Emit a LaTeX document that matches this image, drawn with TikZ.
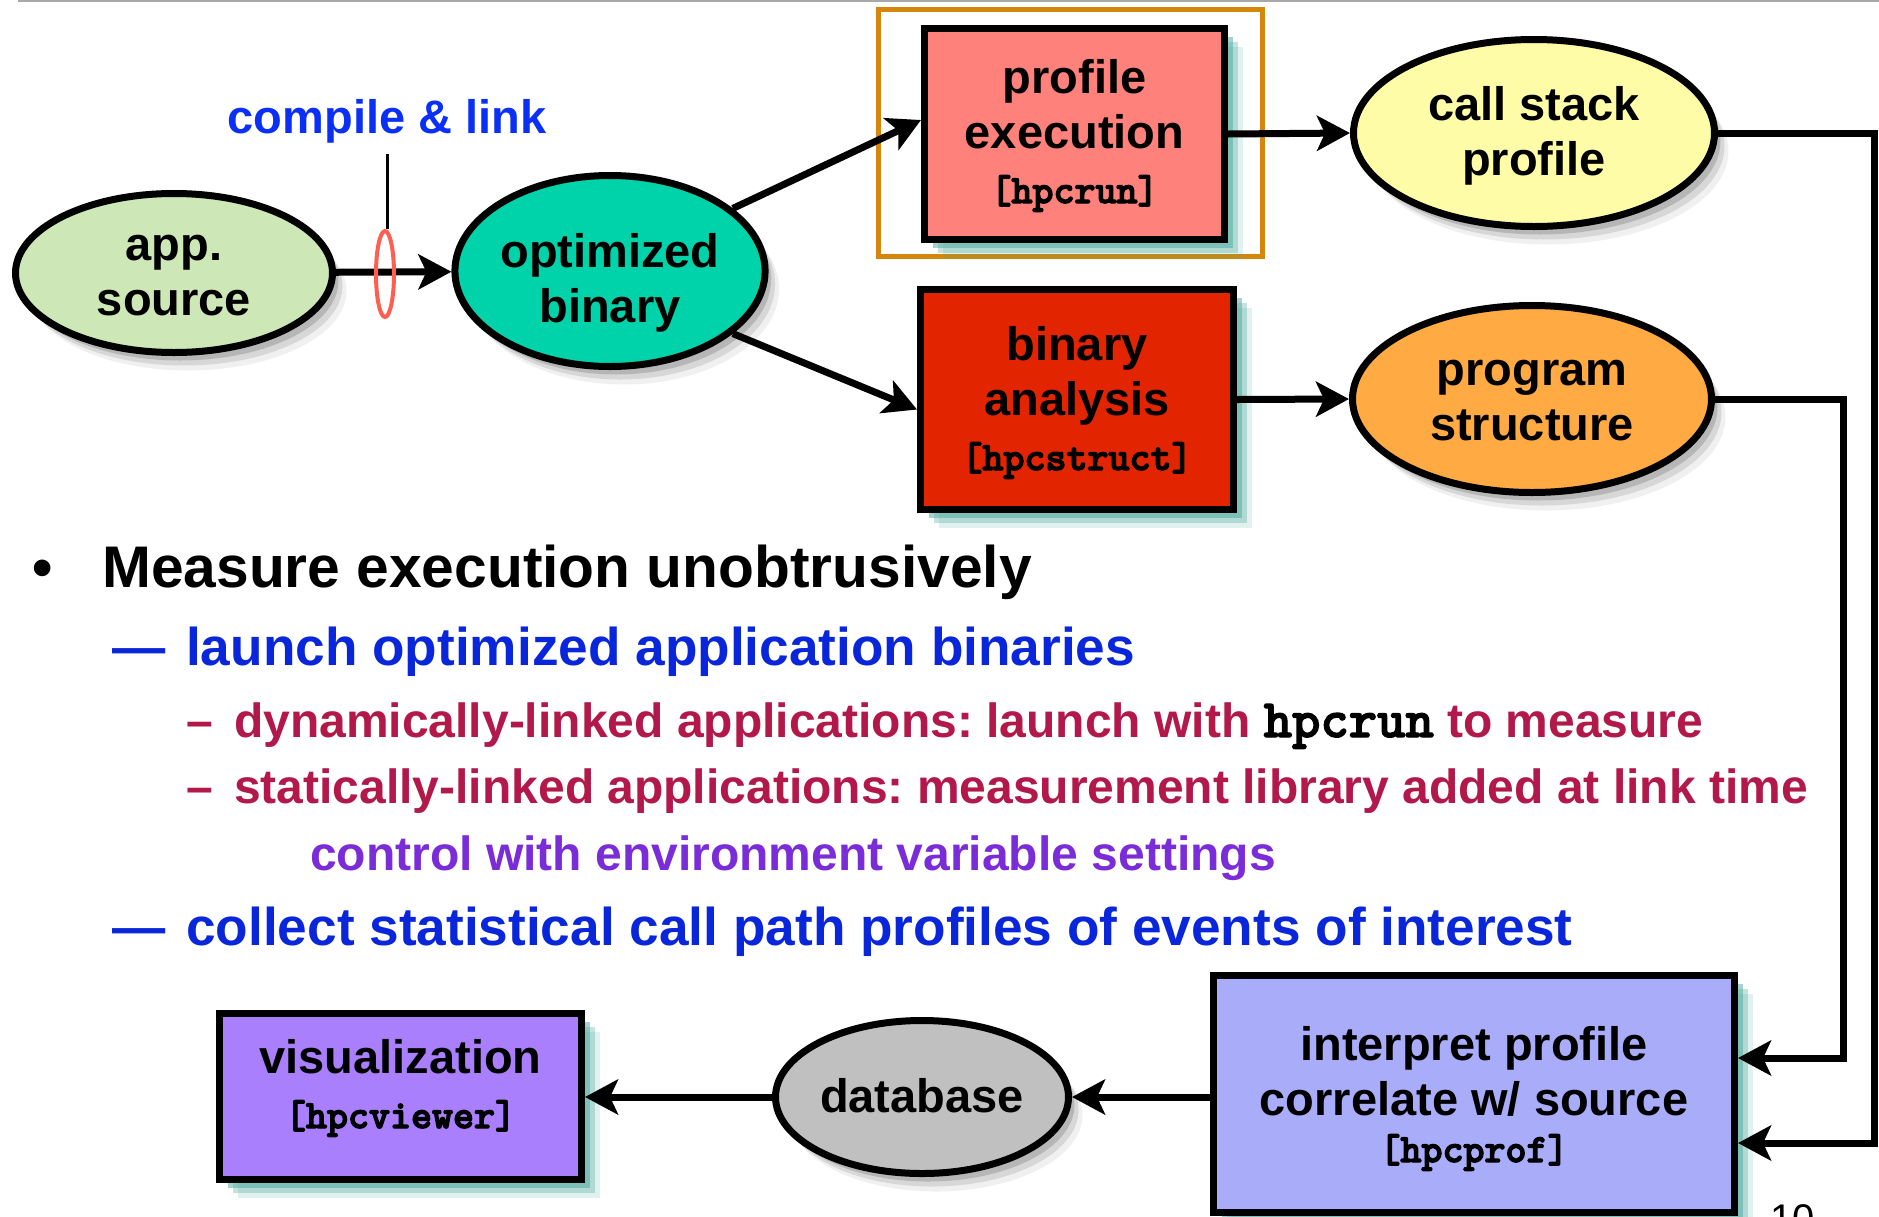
\documentclass[tikz,border=0pt]{standalone}
\usepackage{fontspec}
\setmainfont{Liberation Sans}
\usetikzlibrary{shapes.geometric,arrows.meta,shadows,calc}
\definecolor{cApp}{HTML}{CDE8B6}
\definecolor{cOpt}{HTML}{00D2AA}
\definecolor{cProf}{HTML}{FF817B}
\definecolor{cCall}{HTML}{FFFCA8}
\definecolor{cBin}{HTML}{E32400}
\definecolor{cProg}{HTML}{FFAA42}
\definecolor{cVis}{HTML}{A97FFE}
\definecolor{cDb}{HTML}{C0C0C0}
\definecolor{cInt}{HTML}{A9ADF9}
\definecolor{cHl}{HTML}{D4870A}
\definecolor{cRing}{HTML}{FF5F50}
\definecolor{cBlue}{HTML}{0A26DA}
\definecolor{cBlueL}{HTML}{0A30F5}
\definecolor{cRed}{HTML}{B2184A}
\definecolor{cPurp}{HTML}{7B2CD9}
\definecolor{cTeal}{HTML}{4AA89E}
\definecolor{cGrayLine}{HTML}{A8A8A8}
\newcommand\heavy[1]{\special{pdf:literal direct 2 Tr 1.3 w}#1\special{pdf:literal direct 0 Tr}}
\newcommand\mtxt[1]{{\ttfamily\fontsize{40}{55}\selectfont\heavy{#1}}}
\tikzset{
  lbl/.style={font=\bfseries\fontsize{47}{55}\selectfont, align=center, text=black, text depth=0pt},
  tealsh/.style={drop shadow={fill=cTeal, opacity=0.50, shadow xshift=8pt, shadow yshift=-8pt},
                 drop shadow={fill=cTeal, opacity=0.32, shadow xshift=13pt, shadow yshift=-13pt},
                 drop shadow={fill=cTeal, opacity=0.16, shadow xshift=18pt, shadow yshift=-18pt}},
  graysh/.style={drop shadow={fill=black, opacity=0.15, shadow xshift=6pt, shadow yshift=-8pt},
                 drop shadow={fill=black, opacity=0.10, shadow xshift=10pt, shadow yshift=-13pt},
                 drop shadow={fill=black, opacity=0.06, shadow xshift=14pt, shadow yshift=-18pt}},
  boxn/.style={rectangle, draw=black, line width=7pt, inner sep=0pt, lbl, tealsh},
  elln/.style={ellipse, draw=black, line width=7pt, inner sep=0pt, lbl, graysh},
  conn/.style={line width=7pt, draw=black},
  arr/.style={conn, -{Stealth[length=33pt,width=35pt,inset=8pt]}},
  txt/.style={anchor=base west, inner sep=0pt, font=\frenchspacing\bfseries\fontsize{#1}{#1}\selectfont},
}
\begin{document}
\begin{tikzpicture}[x=1pt,y=-1pt]
\useasboundingbox (0,0) rectangle (1879,1216);
\clip (0,0) rectangle (1879,1216);
\fill[white] (0,0) rectangle (1879,1216);
\draw[cGrayLine, line width=2pt] (18,1) -- (1879,1);

% highlight frame
\node[draw=cHl, line width=5pt, minimum width=384pt, minimum height=247pt, inner sep=0pt] (hl) at (1070.5,133) {};

% nodes
\node[elln, fill=cApp, minimum width=317pt, minimum height=159pt, text height=84pt] (app) at (174,273) {app.\\source};
\node[elln, fill=cOpt, minimum width=305pt, minimum height=191pt, text height=102pt] (opt) at (610,271) {optimized\\binary};
\node[boxn, fill=cProf, minimum width=300pt, minimum height=211pt, text height=138pt] (prof) at (1074.5,134) {profile\\execution\\\mtxt{[hpcrun]}};
\node[elln, fill=cCall, minimum width=361pt, minimum height=187pt, text height=84pt] (cs) at (1534,133) {call stack\\profile};
\node[boxn, fill=cBin, minimum width=313pt, minimum height=220pt, text height=141pt] (bin) at (1077,399.5) {binary\\analysis\\\mtxt{[hpcstruct]}};
\node[elln, fill=cProg, minimum width=359pt, minimum height=187pt, text height=82pt] (ps) at (1532,399) {program\\structure};
\node[boxn, fill=cInt, minimum width=521pt, minimum height=237pt, text height=136pt] (interp) at (1474,1094) {interpret profile\\correlate w/ source\\[-8pt]\mtxt{[hpcprof]}};
\node[elln, fill=cDb, minimum width=293pt, minimum height=153pt, text height=30pt] (db) at (922,1097) {database};
\node[boxn, fill=cVis, minimum width=362pt, minimum height=166pt, text height=63pt] (vis) at (400.5,1096.5) {visualization\\\mtxt{[hpcviewer]}};

% connectors
\draw[arr] (app) -- (opt);
\node[ellipse, draw=cRing, line width=4pt, minimum width=18pt, minimum height=86pt, inner sep=0pt] (ring) at (385,274) {};
\coordinate (tick) at (387,154);
\draw[line width=3pt] (tick) -- (tick |- ring.north);
\node[anchor=base, inner sep=0pt, text=cBlueL, font=\bfseries\fontsize{47}{50}\selectfont] (cl) at (387,133) {compile \& link};

\draw[arr] (opt.27) -- ([yshift=14pt]prof.west);
\draw[arr] (opt.-27) -- ([yshift=-10pt]bin.west);
\draw[arr] (prof.east) -- (cs.west);
\draw[arr] (bin.east) -- (ps.west);
\coordinate (r1) at (1874,1143);
\coordinate (r2) at (1843,1058);
\draw[arr] (cs.east) -| (r1) -- (r1 -| interp.east);
\draw[arr] (ps.east) -| (r2) -- (r2 -| interp.east);
\draw[arr] (interp.west |- db) -- (db.east);
\draw[arr] (db.west) -- (vis.east |- db);

% text
\node[txt=58] (bul) at (32,587) {•};
\node[txt=58.7] (l0) at (102,587) {Measure execution unobtrusively};
\node[txt=53.2, text=cBlue] (d1) at (112,665) {—};
\node[txt=53.2, text=cBlue] (l1) at (186,665) {launch optimized application binaries};
\node[txt=48, text=cRed] (d2) at (186,737) {–};
\node[txt=48, text=cRed] (l2) at (234,737) {dynamically-linked applications: launch with {\color{black}\ttfamily\fontsize{54}{54}\selectfont\heavy{hpcrun}} to measure};
\node[txt=48, text=cRed] (d3) at (186,803) {–};
\node[txt=48, text=cRed] (l3) at (234,803) {statically-linked applications: measurement library added at link time};
\node[txt=48, text=cPurp] (l4) at (310,870) {control with environment variable settings};
\node[txt=53.2, text=cBlue] (d5) at (112,945) {—};
\node[txt=53.2, text=cBlue] (l5) at (186,945) {collect statistical call path profiles of events of interest};
\node[anchor=base west, inner sep=0pt, font=\fontsize{40}{40}\selectfont] (pg) at (1770,1232) {10};
\end{tikzpicture}
\end{document}
